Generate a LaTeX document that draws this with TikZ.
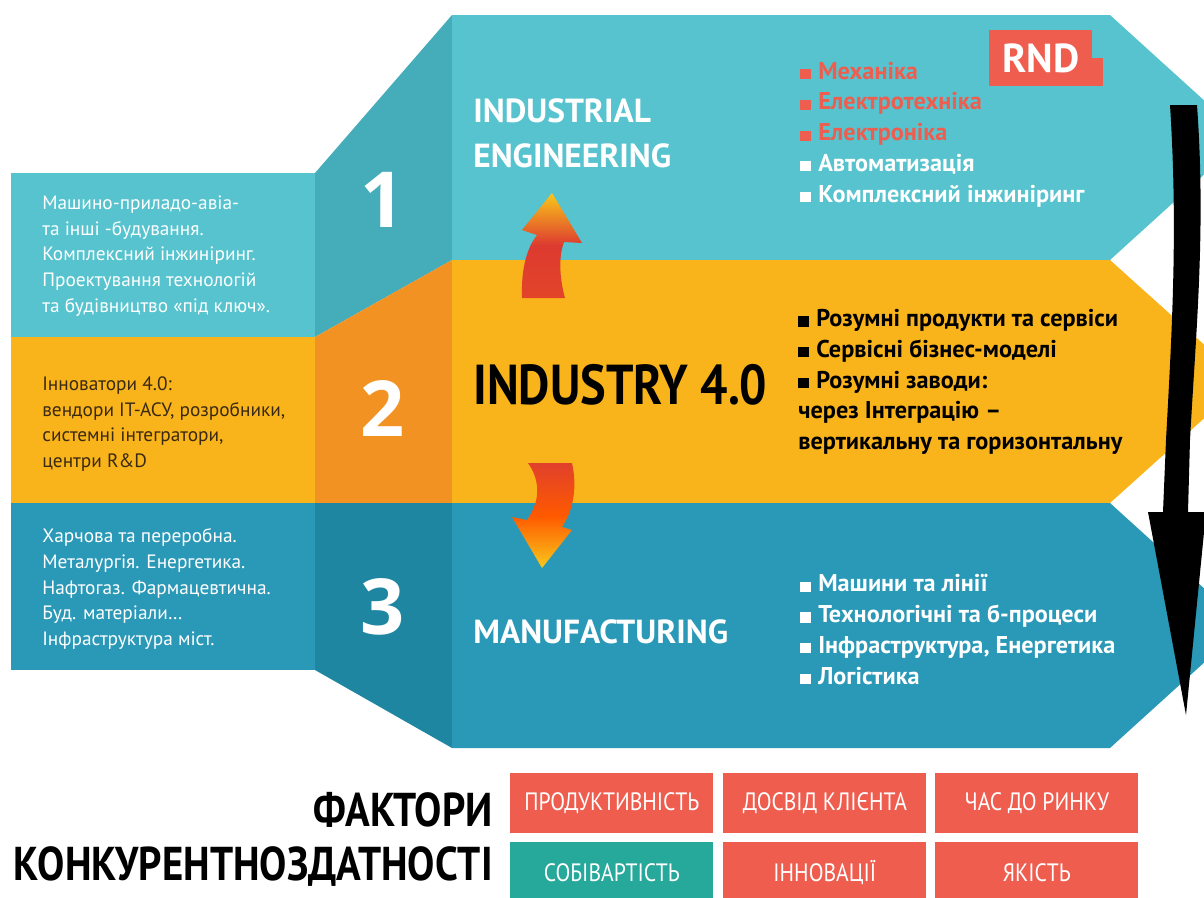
\documentclass[tikz,border=0pt]{standalone}
\usepackage{fontspec}
\setmainfont{PT Sans}
\newfontfamily\narrowfont[FakeStretch=0.86]{PT Sans}
\newfontfamily\numfont{Open Sans}
\usetikzlibrary{positioning}
\definecolor{tealtop}{HTML}{56C3CE}
\definecolor{tealside}{HTML}{45ACBA}
\definecolor{sunyellow}{HTML}{F9B41B}
\definecolor{sunorange}{HTML}{F29222}
\definecolor{bluebottom}{HTML}{2A98B7}
\definecolor{blueside}{HTML}{1E86A1}
\definecolor{rndred}{HTML}{EF5D4F}
\definecolor{costgreen}{HTML}{26A89A}
\definecolor{darktext}{HTML}{3A2A12}
\definecolor{arrowred}{HTML}{DD3A30}
\definecolor{arrowyellow}{HTML}{F9C81A}
\newcommand\bul{\rule{0.42em}{0.42em}\hspace{0.32em}}
\tikzset{%
	lefttext/.style = {anchor=west, align=left, inner sep=0pt, font=\fontsize{11}{14.6}\selectfont},
	bignum/.style   = {inner sep=0pt, text=white, font=\numfont\bfseries\fontsize{44}{44}\selectfont},
	headline/.style = {anchor=west, align=left, inner sep=0pt, text=white, font=\bfseries\fontsize{19}{25.6}\selectfont},
	bullets/.style  = {anchor=west, align=left, inner sep=0pt, font=\bfseries\fontsize{13.8}{17.5}\selectfont},
	factor/.style   = {anchor=north west, minimum width=4.06cm, minimum height=1.2cm, inner sep=0pt, text=white, font=\narrowfont\fontsize{14.3}{14.3}\selectfont},
}
\begin{document}
\begin{tikzpicture}[x=0.02cm,y=-0.02cm]
	\clip (0,0) rectangle (1204,897);
	% left panels
	\fill[tealtop] (11,173) rectangle (315,337);
	\fill[sunyellow] (11,337) rectangle (315,503);
	\fill[bluebottom] (11,503) rectangle (315,670);
	% side faces
	\fill[tealside] (315,173) -- (452,15) -- (452,260) -- (315,337) -- cycle;
	\fill[sunorange] (315,337) -- (452,260) -- (452,503) -- (315,503) -- cycle;
	\fill[blueside] (315,503) -- (452,503) -- (452,748) -- (315,670) -- cycle;
	% chevrons
	\fill[tealtop] (452,15) -- (1110,15) -- (1245,137.5) -- (1110,260) -- (452,260) -- cycle;
	\fill[sunyellow] (452,260) -- (1110,260) -- (1245,381.5) -- (1110,503) -- (452,503) -- cycle;
	\fill[bluebottom] (452,503) -- (1110,503) -- (1245,625.5) -- (1110,748) -- (452,748) -- cycle;
	% numbers
	\node[bignum] (one) at (383,200) {1};
	\node[bignum] (two) at (383,408) {2};
	\node[bignum] (three) at (383,607) {3};
	% left texts
	\node[lefttext, text=white] (branches) at (42,256) {Машино-приладо-авіа-\\та інші -будування.\\Комплексний інжиніринг.\\Проектування технологій\\та будівництво «під ключ».};
	\node[lefttext, text=darktext] (innovators) at (42,424) {Інноватори 4.0:\\вендори ІТ-АСУ, розробники,\\системні інтегратори,\\центри R\&D};
	\node[lefttext, text=white] (industries) at (42,589) {Харчова та переробна.\\Металургія. Енергетика.\\Нафтогаз. Фармацевтична.\\Буд. матеріали…\\Інфраструктура міст.};
	% titles
	\node[headline] (engineering) at (473,133.5) {INDUSTRIAL\\ENGINEERING};
	\node[anchor=west, inner sep=0pt, font=\narrowfont\bfseries\fontsize{32}{32}\selectfont] (industry) at (473,385) {INDUSTRY 4.0};
	\node[headline] (manufacturing) at (473,632) {MANUFACTURING};
	% bullet lists
	\node[bullets, text=white] (rndlist) at (800,134.5) {\textcolor{rndred}{\bul Механіка}\\ \textcolor{rndred}{\bul Електротехніка}\\ \textcolor{rndred}{\bul Електроніка}\\ \bul Автоматизація\\ \bul Комплексний інжиніринг};
	\node[bullets, text=black] (i4list) at (798,382) {\bul Розумні продукти та сервіси\\ \bul Сервісні бізнес-моделі\\ \bul Розумні заводи:\\ через Інтеграцію –\\ вертикальну та горизонтальну};
	\node[bullets, text=white] (mflist) at (800,629.5) {\bul Машини та лінії\\ \bul Технологічні та б-процеси\\ \bul Інфраструктура, Енергетика\\ \bul Логістика};
	% RND badge
	\node[fill=rndred, anchor=north west, minimum width=2.06cm, minimum height=1.12cm, inner sep=0pt, text=white, font=\bfseries\fontsize{23}{23}\selectfont] (rnd) at (989,30) {RND};
	\fill[rndred] (1091,58) rectangle (1103,86);
	% curved arrows
	\shade[top color=arrowyellow, bottom color=arrowred!85!orange, middle color=arrowred] (522,298) .. controls (521,268) and (527,248) .. (537,235) -- (522,230) -- (552,193) -- (582,243) -- (564,242) .. controls (558,258) and (560,280) .. (565,298) -- cycle;
	\shade[top color=arrowred!90!orange, bottom color=arrowyellow, middle color=orange!70!red] (528,463) -- (572,463) .. controls (578,490) and (572,512) .. (562,527) -- (572,530) -- (542,568) -- (512,517) -- (527,520) .. controls (541,500) and (540,480) .. (528,463) -- cycle;
	% black arrow
	\fill[black] (1170,105) -- (1197,105) .. controls (1206,230) and (1196,330) .. (1190,440) -- (1188,512) -- (1206,512) -- (1186,715) -- (1148,512) -- (1163,512) -- (1166,440) .. controls (1172,330) and (1178,230) .. (1170,105) -- cycle;
	% factors
	\node[anchor=east, align=right, inner sep=0pt, font=\narrowfont\bfseries\fontsize{27}{30.7}\selectfont] (factors) at (493,839) {ФАКТОРИ\\КОНКУРЕНТНОЗДАТНОСТІ};
	\foreach \px/\py/\col/\txt [count=\i] in {510/773/rndred/ПРОДУКТИВНІСТЬ, 723/773/rndred/ДОСВІД КЛІЄНТА, 935/773/rndred/ЧАС ДО РИНКУ, 510/842/costgreen/СОБІВАРТІСТЬ, 723/842/rndred/ІННОВАЦІЇ, 935/842/rndred/ЯКІСТЬ}
		\node[factor, fill=\col] (factor\i) at (\px,\py) {\txt};
\end{tikzpicture}
\end{document}
